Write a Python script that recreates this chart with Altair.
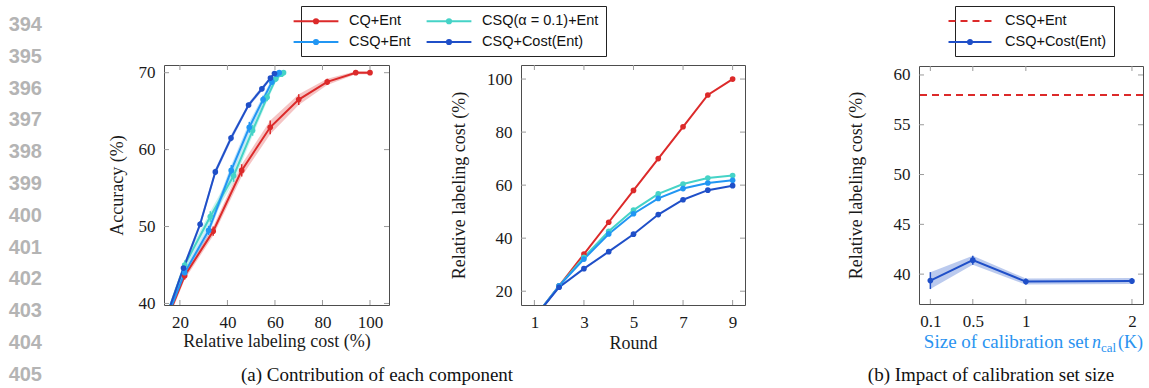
import altair as alt
import pandas as pd

# ---------------- data ----------------
rounds = [1, 2, 3, 4, 5, 6, 7, 8, 9]
methods = ["CQ+Ent", "CSQ(α = 0.1)+Ent", "CSQ+Ent", "CSQ+Cost(Ent)"]
method_colors = ["#dc2a2a", "#45d3c7", "#2196f3", "#1f4fc8"]
# legend entries fill column by column
legend_order = ["CQ+Ent", "CSQ+Ent", "CSQ(α = 0.1)+Ent", "CSQ+Cost(Ent)"]
legend_colors = ["#dc2a2a", "#2196f3", "#45d3c7", "#1f4fc8"]

# relative labeling cost (%) after each round
cost_cq = [10, 22, 34, 46, 58, 70, 82, 94, 100]
cost_csq_alpha = [10, 22, 32.8, 42.6, 50.6, 56.7, 60.4, 62.7, 63.6]
cost_csq = [10, 22, 32.1, 41.6, 49.2, 55.0, 58.7, 60.8, 61.8]
cost_cost = [10, 21.5, 28.5, 34.9, 41.5, 48.9, 54.5, 58.1, 59.8]

# accuracy (%) after each round
acc_cq = [34.5, 43.6, 49.4, 57.3, 62.9, 66.5, 68.8, 70.0, 70.0]
acc_csq_alpha = [34.5, 45.0, 51.3, 56.6, 62.5, 66.8, 69.2, 69.8, 70.0]
acc_csq = [34.5, 44.0, 49.5, 57.3, 62.9, 66.5, 68.8, 69.8, 70.0]
acc_cost = [34.5, 44.6, 50.3, 57.1, 61.5, 65.8, 67.9, 69.3, 69.9]

# standard deviation of accuracy
sd_cq = [0.5, 0.5, 0.6, 0.8, 0.9, 0.7, 0.4, 0.2, 0.2]
sd_csq_alpha = [0.5, 0.6, 0.7, 0.8, 0.7, 0.5, 0.4, 0.2, 0.2]
sd_csq = [0.5, 0.5, 0.6, 0.7, 0.7, 0.5, 0.4, 0.2, 0.2]
sd_cost = [0.4, 0.4, 0.4, 0.4, 0.4, 0.3, 0.3, 0.2, 0.2]

# calibration set size study
ncal = [0.1, 0.5, 1, 2]
cost_ncal = [39.35, 41.4, 39.25, 39.3]
sd_ncal = [0.85, 0.45, 0.3, 0.3]
baseline_csq_ent = 58.0
ncal_methods = ["CSQ+Ent", "CSQ+Cost(Ent)"]

line_numbers = [394, 395, 396, 397, 398, 399, 400, 401, 402, 403, 404, 405]
caption_a = "(a) Contribution of each component"
caption_b = "(b) Impact of calibration set size"

# ---------------- styling ----------------
SERIF = "Liberation Serif"
SANS = "Liberation Sans"
TICK_GRAY = "#9a9a9a"
FRAME = "#4d4d4d"
RED, DARK = method_colors[0], method_colors[3]
TITLE_BLUE = "#2a93f0"


def legend_path(half, r, dot=True):
    """Horizontal line (+ optional centred dot) for legend symbols."""
    p = f"M{-half},0L{half},0"
    if dot:
        p += f"M{-r},0A{r},{r},0,1,1,{r},0A{r},{r},0,1,1,{-r},0Z"
    return p


rows = []
for m, cs, accs, sds in zip(methods,
                            [cost_cq, cost_csq_alpha, cost_csq, cost_cost],
                            [acc_cq, acc_csq_alpha, acc_csq, acc_cost],
                            [sd_cq, sd_csq_alpha, sd_csq, sd_cost]):
    for r, c, a, s in zip(rounds, cs, accs, sds):
        rows.append({"method": m, "round": r, "cost": c, "acc": a,
                     "lo": a - s, "hi": a + s})
df_a = pd.DataFrame(rows)

df_b = pd.DataFrame({"ncal": ncal, "cost": cost_ncal,
                     "lo": [c - s for c, s in zip(cost_ncal, sd_ncal)],
                     "hi": [c + s for c, s in zip(cost_ncal, sd_ncal)]})


def lin(domain):
    return alt.Scale(domain=domain, nice=False, zero=False)


# series colour for the plotted marks (listed last-to-first so this scale
# stays separate from the legend scales below)
color_a = alt.Color("method:N",
                    scale=alt.Scale(domain=methods[::-1], range=method_colors[::-1]),
                    legend=None)


def frame_ticks(xf, xvals, yf, yvals, W, H, L=5):
    """Inward tick marks on all four sides of a panel."""
    xt = pd.DataFrame({xf: xvals})
    yt = pd.DataFrame({yf: yvals})
    st = dict(color=TICK_GRAY, strokeWidth=1)
    return [
        alt.Chart(xt).mark_rule(**st).encode(x=f"{xf}:Q", y=alt.value(H), y2=alt.value(H - L)),
        alt.Chart(xt).mark_rule(**st).encode(x=f"{xf}:Q", y=alt.value(0), y2=alt.value(L)),
        alt.Chart(yt).mark_rule(**st).encode(y=f"{yf}:Q", x=alt.value(0), x2=alt.value(L)),
        alt.Chart(yt).mark_rule(**st).encode(y=f"{yf}:Q", x=alt.value(W), x2=alt.value(W - L)),
    ]


def legend_layer(domain, strokes, fills, shapes, legend, dashes=None):
    enc = dict(
        x=alt.value(0), y=alt.value(0),
        stroke=alt.Stroke("method:N", scale=alt.Scale(domain=domain, range=strokes), legend=legend),
        fill=alt.Fill("method:N", scale=alt.Scale(domain=domain, range=fills), legend=legend),
        shape=alt.Shape("method:N", scale=alt.Scale(domain=domain, range=shapes), legend=legend),
    )
    if dashes:
        enc["strokeDash"] = alt.StrokeDash("method:N", scale=alt.Scale(domain=domain, range=dashes),
                                           legend=legend)
    return (alt.Chart(pd.DataFrame({"method": domain}))
            .transform_filter("false")
            .mark_point(strokeWidth=2, opacity=1)
            .encode(**enc))


def text_at(t, x, y, **style):
    return (alt.Chart(pd.DataFrame({"t": [t]})).mark_text(**style)
            .encode(x=alt.value(x), y=alt.value(y), text="t:N"))


def spacer(W, H):
    return (alt.Chart(pd.DataFrame({"a": [0]})).mark_point(opacity=0)
            .encode(x=alt.value(0), y=alt.value(0))
            .properties(width=W, height=H, view=alt.ViewBackground(stroke="transparent")))


cap_style = dict(font=SERIF, fontSize=19, color="#111", baseline="alphabetic", align="center")
leg_common = dict(title=None, orient="none", symbolSize=196, symbolStrokeWidth=2,
                  labelFont=SANS, labelFontSize=14.5, labelColor="#111", rowPadding=6,
                  padding=7, strokeColor="#222", fillColor="white")

# ---------------- margin line numbers ----------------
numbers = alt.layer(
    alt.Chart(pd.DataFrame({"n": line_numbers}))
    .mark_text(align="right", baseline="middle", font=SANS, fontWeight="bold",
               fontSize=20, color="#b4b4b4")
    .encode(x=alt.value(41),
            y=alt.Y("n:Q", scale=alt.Scale(domain=[395.258, 402.805], reverse=True,
                                           nice=False, zero=False), axis=None),
            text="n:N"),
    alt.Chart(pd.DataFrame({"a": [0]})).mark_rule(opacity=0, strokeWidth=0.1)
    .encode(x=alt.value(0), x2=alt.value(2), y=alt.value(-64), y2=alt.value(-62)),
).properties(width=45, height=240, view=alt.ViewBackground(stroke="transparent"))

# ---------------- panel 1: accuracy vs cost ----------------
W1, H1 = 225, 240
x1 = alt.X("cost:Q", scale=lin([13.3, 108]),
           axis=alt.Axis(title="Relative labeling cost (%)", values=[20, 40, 60, 80, 100],
                         titlePadding=2))
y1 = alt.Y("acc:Q", scale=lin([39.8, 71]),
           axis=alt.Axis(title="Accuracy (%)", values=[40, 50, 60, 70], titlePadding=12))
base1 = alt.Chart(df_a)
legend1 = alt.Legend(legendX=137, legendY=-59, columns=2, labelOffset=25, columnPadding=11,
                     **leg_common)
p1 = alt.layer(
    base1.mark_area(opacity=0.28, clip=True).encode(x=x1, y="lo:Q", y2="hi:Q", color=color_a),
    base1.mark_line(strokeWidth=2, clip=True).encode(x=x1, y=y1, color=color_a, order="round:Q"),
    base1.mark_rule(strokeWidth=1.5, clip=True).encode(x=x1, y="lo:Q", y2="hi:Q", color=color_a),
    base1.mark_circle(size=32, opacity=1, clip=True).encode(x=x1, y=y1, color=color_a),
    legend_layer(legend_order, legend_colors, legend_colors, [legend_path(3.2, 0.3)] * 4, legend1),
    *frame_ticks("cost", [20, 40, 60, 80, 100], "acc", [40, 50, 60, 70], W1, H1),
    text_at(caption_a, 213, 316, **cap_style),
).properties(width=W1, height=H1)

# ---------------- panel 2: cost per round ----------------
W2, H2 = 224, 240
x2 = alt.X("round:Q", scale=lin([0.46, 9.5]),
           axis=alt.Axis(title="Round", values=[1, 3, 5, 7, 9], titlePadding=4))
y2 = alt.Y("cost:Q", scale=lin([14.8, 105.3]),
           axis=alt.Axis(title="Relative labeling cost (%)", values=[20, 40, 60, 80, 100],
                         titlePadding=18))
p2 = alt.layer(
    base1.mark_line(strokeWidth=2, clip=True).encode(x=x2, y=y2, color=color_a, order="round:Q"),
    base1.mark_circle(size=32, opacity=1, clip=True).encode(x=x2, y=y2, color=color_a),
    *frame_ticks("round", [1, 3, 5, 7, 9], "cost", [20, 40, 60, 80, 100], W2, H2),
).properties(width=W2, height=H2)

# ---------------- panel 3: calibration set size ----------------
W3, H3 = 224, 238
x3 = alt.X("ncal:Q", scale=lin([-0.007, 2.104]),
           axis=alt.Axis(title=None, values=ncal, labelExpr="datum.value", labelPadding=9))
y3 = alt.Y("cost:Q", scale=lin([37.0, 60.9]),
           axis=alt.Axis(title="Relative labeling cost (%)", values=[40, 45, 50, 55, 60],
                         titlePadding=28))
base3 = alt.Chart(df_b)
legend3 = alt.Legend(legendX=36, legendY=-60, labelOffset=27, **leg_common)
title_frag = dict(font=SERIF, fontSize=18, color=TITLE_BLUE, baseline="alphabetic")
p3 = alt.layer(
    alt.Chart(pd.DataFrame({"cost": [baseline_csq_ent]}))
    .mark_rule(color=RED, strokeDash=[7, 5], strokeWidth=2).encode(y=y3),
    base3.mark_area(opacity=0.3, color=DARK, clip=True).encode(x=x3, y="lo:Q", y2="hi:Q"),
    base3.mark_line(strokeWidth=2, color=DARK, clip=True).encode(x=x3, y=y3),
    base3.mark_rule(strokeWidth=1.5, color=DARK, clip=True).encode(x=x3, y="lo:Q", y2="hi:Q"),
    base3.mark_circle(size=32, opacity=1, color=DARK, clip=True).encode(x=x3, y=y3),
    legend_layer(ncal_methods, [RED, DARK], [RED, DARK],
                 [legend_path(3.07, 0.3, dot=False), legend_path(3.07, 0.3)], legend3,
                 dashes=[[7, 5], [1, 0]]),
    *frame_ticks("ncal", ncal, "cost", [40, 45, 50, 55, 60], W3, H3),
    text_at("Size of calibration set", 170, 282, align="right",
            **{**title_frag, "fontSize": 19}),
    text_at("n", 173, 282, align="left", fontStyle="italic", **title_frag),
    text_at("cal", 182, 286, align="left", font=SERIF, fontSize=13, color=TITLE_BLUE,
            baseline="alphabetic"),
    text_at("(K)", 199, 282, align="left", **title_frag),
    text_at(caption_b, 72, 315, **cap_style),
).properties(width=W3, height=H3)

indep = dict(color="independent", fill="independent", stroke="independent",
             shape="independent", strokeDash="independent")

chart = (alt.hconcat(numbers, spacer(118, 240), p1, spacer(132, 240), p2,
                     spacer(173.7, 240), p3,
                     spacing=0, bounds="flush", center=True)
         .resolve_scale(**indep)
         .properties(padding=0, background="white")
         .configure_view(stroke=FRAME, strokeWidth=1)
         .configure_axis(labelFont=SERIF, titleFont=SERIF, labelFontSize=17, titleFontSize=18,
                         titleFontWeight="normal", labelColor="#1a1a1a", titleColor="#1a1a1a",
                         ticks=False, tickSize=0, domain=False, grid=False, labelPadding=9,
                         titlePadding=6, labelFlush=False, labelOverlap=False))

chart.save("out.html", embed_options={"renderer": "svg", "actions": False})
